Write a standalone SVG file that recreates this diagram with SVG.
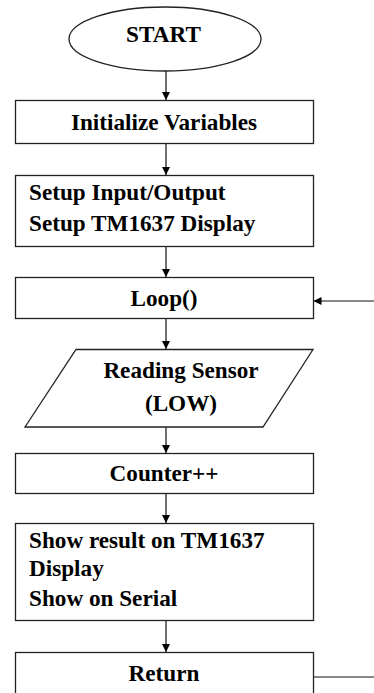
<svg xmlns="http://www.w3.org/2000/svg" width="374" height="693" viewBox="0 0 374 693">
<defs>
<style>
.shape{fill:#fff;stroke:#222;stroke-width:1.3}
.t{font-family:"Liberation Serif","Times New Roman",serif;font-weight:bold;font-size:23.2px;fill:#000}
.c{text-anchor:middle}
.ln{stroke:#111;stroke-width:1.2;fill:none}
</style>
<marker id="ah" markerWidth="8" markerHeight="10" refX="8" refY="5" orient="auto" markerUnits="userSpaceOnUse">
<path d="M0,1 L8,5 L0,9 Z" fill="#000"/>
</marker>
</defs>
<rect width="374" height="693" fill="#fff"/>
<g id="connectors">
<line class="ln" x1="166" y1="71" x2="166" y2="100" marker-end="url(#ah)"/>
<line class="ln" x1="166" y1="144" x2="166" y2="175" marker-end="url(#ah)"/>
<line class="ln" x1="166" y1="246" x2="166" y2="277" marker-end="url(#ah)"/>
<line class="ln" x1="374" y1="301" x2="313.5" y2="301" marker-end="url(#ah)"/>
<line class="ln" x1="166" y1="318" x2="166" y2="349" marker-end="url(#ah)"/>
<line class="ln" x1="166" y1="427" x2="166" y2="453" marker-end="url(#ah)"/>
<line class="ln" x1="166" y1="494" x2="166" y2="523" marker-end="url(#ah)"/>
<line class="ln" x1="166" y1="621" x2="166" y2="652" marker-end="url(#ah)"/>
<line class="ln" x1="313" y1="677" x2="374" y2="677"/>
</g>
<g id="start">
<ellipse class="shape" cx="165" cy="39" rx="96" ry="32"/>
<text class="t c" x="163.5" y="41.5">START</text>
</g>
<g id="init">
<rect class="shape" x="15.5" y="100.5" width="298" height="43"/>
<text class="t c" x="164" y="130">Initialize Variables</text>
</g>
<g id="setup">
<rect class="shape" x="15.5" y="175.5" width="298" height="71"/>
<text class="t" x="29" y="200">Setup Input/Output</text>
<text class="t" x="29" y="230.5">Setup TM1637 Display</text>
</g>
<g id="loop">
<rect class="shape" x="15.5" y="277.5" width="298" height="41"/>
<text class="t c" x="164" y="305.5">Loop()</text>
</g>
<g id="read">
<polygon class="shape" points="76,349.5 313,349.5 263,427 25,427"/>
<text class="t c" x="181" y="378">Reading Sensor</text>
<text class="t c" x="181" y="410.5">(LOW)</text>
</g>
<g id="counter">
<rect class="shape" x="15.5" y="453.5" width="298" height="40"/>
<text class="t c" x="164" y="481">Counter++</text>
</g>
<g id="show">
<rect class="shape" x="15.5" y="523.5" width="298" height="97"/>
<text class="t" x="29" y="548">Show result on TM1637</text>
<text class="t" x="29" y="576">Display</text>
<text class="t" x="29" y="605.5">Show on Serial</text>
</g>
<g id="return">
<rect class="shape" x="15.5" y="652.5" width="298" height="60"/>
<text class="t c" x="164" y="680.5">Return</text>
</g>
</svg>
